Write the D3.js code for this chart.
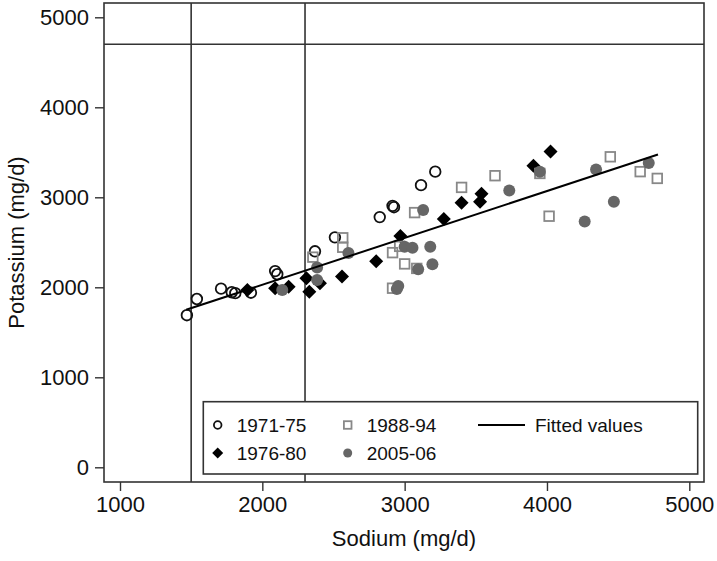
<!DOCTYPE html>
<html><head><meta charset="utf-8">
<script src="https://cdn.jsdelivr.net/npm/d3@7"></script>
<style>body{margin:0;background:#fff}svg{display:block}text{font-family:"Liberation Sans",Arial,Helvetica,sans-serif;fill:#111}</style>
</head><body><svg id="c" width="717" height="561"></svg>
<script>
const xTicks = [1000, 2000, 3000, 4000, 5000];
const yTicks = [0, 1000, 2000, 3000, 4000, 5000];
const refX = [1500, 2300];
const refY = [4700];
const s1971 = [[1470,1690],[1540,1870],[1710,1985],[1785,1945],[1810,1935],[1920,1940],[2090,2180],[2105,2145],[2370,2400],[2510,2555],[2825,2780],[2915,2905],[2925,2890],[3115,3135],[3215,3285]];
const s1976 = [[1895,1970],[2090,1990],[2185,2005],[2310,2100],[2330,1950],[2405,2045],[2560,2120],[2800,2290],[2970,2570],[3275,2760],[3400,2940],[3540,3040],[3530,2950],[3905,3350],[4025,3510]];
const s1988 = [[2355,2335],[2565,2550],[2565,2445],[2915,2385],[2965,2455],[3000,2260],[3085,2210],[2915,1990],[3070,2830],[3400,3110],[3635,3240],[3950,3265],[4015,2790],[4445,3450],[4655,3285],[4775,3210]];
const s2005 = [[2140,1970],[2385,2220],[2385,2080],[2605,2380],[2945,1980],[2955,2015],[3000,2450],[3055,2440],[3095,2200],[3130,2860],[3180,2450],[3195,2255],[3735,3075],[3950,3285],[4265,2730],[4345,3310],[4470,2950],[4715,3380]];
const fitted = [[1465,1750],[4780,3475]];
const legendLabels = ["1971-75","1988-94","Fitted values","1976-80","2005-06"];

const svg = d3.select("#c");
const x = d3.scaleLinear().domain([1000,5000]).range([120,689.3]);
const y = d3.scaleLinear().domain([0,5000]).range([467.3,17.3]);
const L=104, R=704, T=3, B=482;
const ink="#333";

svg.append("rect").attr("x",L).attr("y",T).attr("width",R-L).attr("height",B-T)
  .attr("fill","none").attr("stroke",ink).attr("stroke-width",1.6);

refX.forEach(v=>svg.append("line").attr("x1",x(v)).attr("x2",x(v)).attr("y1",T).attr("y2",B).attr("stroke",ink).attr("stroke-width",1.6));
refY.forEach(v=>svg.append("line").attr("x1",L).attr("x2",R).attr("y1",y(v)).attr("y2",y(v)).attr("stroke",ink).attr("stroke-width",1.6));

const gx = svg.append("g").attr("transform",`translate(0,${B})`)
  .call(d3.axisBottom(x).tickValues(xTicks).tickFormat(d3.format("d")).tickSize(9).tickPadding(5));
const gy = svg.append("g").attr("transform",`translate(${L},0)`)
  .call(d3.axisLeft(y).tickValues(yTicks).tickFormat(d3.format("d")).tickSize(9).tickPadding(6));
[gx,gy].forEach(g=>{g.select(".domain").remove();g.selectAll(".tick line").attr("stroke",ink).attr("stroke-width",1.4);
  g.selectAll(".tick text").style("font-size","22px").attr("fill","#111");});

svg.append("text").attr("x",(L+R)/2).attr("y",546).attr("text-anchor","middle").style("font-size","22px").text("Sodium (mg/d)");
svg.append("text").attr("transform",`translate(24,${(T+B)/2}) rotate(-90)`).attr("text-anchor","middle").style("font-size","22px").text("Potassium (mg/d)");

const plot = svg.append("g");
function hollowCircle(g,cx,cy,r){g.append("circle").attr("cx",cx).attr("cy",cy).attr("r",r).attr("fill","none").attr("stroke","#111").attr("stroke-width",1.8);}
function diamond(g,cx,cy,h){g.append("path").attr("d",`M${cx},${cy-h}L${cx+h},${cy}L${cx},${cy+h}L${cx-h},${cy}Z`).attr("fill","#000");}
function square(g,cx,cy,h){g.append("rect").attr("x",cx-h).attr("y",cy-h).attr("width",2*h).attr("height",2*h).attr("fill","none").attr("stroke","#888").attr("stroke-width",1.8);}
function dot(g,cx,cy,r){g.append("circle").attr("cx",cx).attr("cy",cy).attr("r",r).attr("fill","#666");}

s1971.forEach(d=>hollowCircle(plot,x(d[0]),y(d[1]),5.3));
s1976.forEach(d=>diamond(plot,x(d[0]),y(d[1]),7));
s1988.forEach(d=>square(plot,x(d[0]),y(d[1]),4.8));
s2005.forEach(d=>dot(plot,x(d[0]),y(d[1]),6));

svg.append("path").attr("d",d3.line().x(d=>x(d[0])).y(d=>y(d[1]))(fitted)).attr("stroke","#000").attr("stroke-width",2).attr("fill","none");

// legend
const lg = svg.append("g");
lg.append("rect").attr("x",203.3).attr("y",401.7).attr("width",697.7-203.3).attr("height",474-401.7).attr("fill","#fff").attr("stroke",ink).attr("stroke-width",1.6);
const r1=425, r2=453;
hollowCircle(lg,217.7,r1,3.8);
square(lg,347.7,r1,3.8);
lg.append("line").attr("x1",478).attr("x2",525).attr("y1",r1).attr("y2",r1).attr("stroke","#000").attr("stroke-width",2);
diamond(lg,217.7,r2,5.5);
dot(lg,347.7,r2,4.5);
const lpos=[[236.7,r1],[366.7,r1],[535,r1],[236.7,r2],[366.7,r2]];
legendLabels.forEach((t,i)=>lg.append("text").attr("x",lpos[i][0]).attr("y",lpos[i][1]).attr("dy","0.36em").style("font-size","19px").text(t));
</script></body></html>
